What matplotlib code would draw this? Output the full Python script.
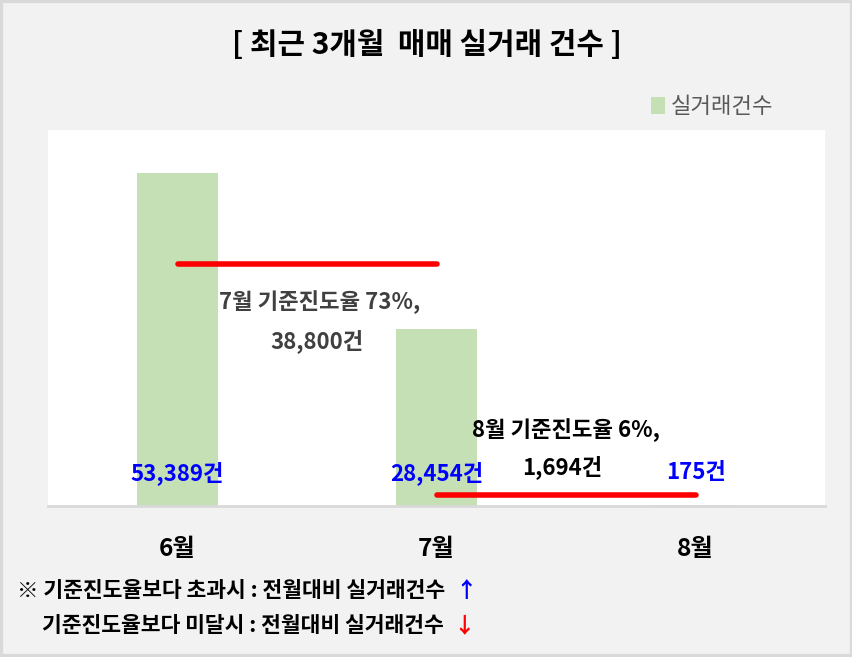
import matplotlib
matplotlib.use("Agg")
import matplotlib.pyplot as plt
from matplotlib.patches import Rectangle, Patch

plt.rcParams['font.family'] = ['Noto Sans CJK KR', 'DejaVu Sans']

# data
months = ["6월", "7월", "8월"]
deals = [53389, 28454, 175]
deal_labels = ["53,389건", "28,454건", "175건"]
# 기준진도율 목표선 (전월 -> 당월)
target_7 = 38800
target_8 = 1694
note_7 = ["7월 기준진도율 73%,", "38,800건"]
note_8 = ["8월 기준진도율 6%,", "1,694건"]

bar_color = "#c5e0b4"

fig = plt.figure(figsize=(8.53, 6.57), dpi=100)
fig.patch.set_facecolor("#f2f2f2")
# outer frame
fig.patches.append(Rectangle((0.0015, 0.002), 0.997, 0.996, transform=fig.transFigure,
                             fill=False, edgecolor="#d9d9d9", linewidth=3))

ax = fig.add_axes([0.0563, 0.2298, 0.911, 0.5723])
ax.set_facecolor("white")

x = range(len(months))
ax.bar(x, deals, width=0.31, color=bar_color, zorder=2)

ax.set_xlim(-0.5, 2.5)
ax.set_ylim(0, 60300)

# red target lines
ax.plot([0, 1], [target_7, target_7], color="red", linewidth=4, solid_capstyle="round", zorder=3)
ax.plot([1, 2], [target_8, target_8], color="red", linewidth=4, solid_capstyle="round", zorder=3)

# blue value labels near the bottom
for i, lab in enumerate(deal_labels):
    ax.text(i, 5300, lab, ha="center", va="center", color="blue",
            fontsize=16, fontweight="bold", zorder=4)

# annotations
ax.text(0.55, 32700, note_7[0], ha="center", va="center", color="#404040",
        fontsize=16, fontweight="bold", zorder=4)
ax.text(0.54, 26400, note_7[1], ha="center", va="center", color="#404040",
        fontsize=16, fontweight="bold", zorder=4)
ax.text(1.5, 12200, note_8[0], ha="center", va="center", color="black",
        fontsize=16, fontweight="bold", zorder=4)
ax.text(1.485, 6250, note_8[1], ha="center", va="center", color="black",
        fontsize=16, fontweight="bold", zorder=4)

# axes styling
for side in ["top", "left", "right"]:
    ax.spines[side].set_visible(False)
ax.spines["bottom"].set_color("#d9d9d9")
ax.spines["bottom"].set_linewidth(2)
ax.set_yticks([])
ax.set_xticks(list(x))
ax.set_xticklabels(months, fontsize=17.5, fontweight="bold", color="black")
ax.tick_params(axis="x", length=0, pad=22)

# title
fig.text(0.5, 0.931, "[ 최근 3개월  매매 실거래 건수 ]", ha="center", va="center",
         fontsize=21.5, fontweight="bold", color="black")

# legend
leg = fig.legend(handles=[Patch(facecolor=bar_color, label="실거래건수")],
                 loc="center left", bbox_to_anchor=(0.74, 0.838), frameon=False,
                 handlelength=0.6, handleheight=0.8, handletextpad=0.3,
                 prop={"size": 16})
for t in leg.get_texts():
    t.set_color("#595959")

# footnotes with coloured arrows right after the text
r = fig.canvas.get_renderer()
notes = [("※ 기준진도율보다 초과시 : 전월대비 실거래건수", 0.02, 0.101, "↑", "blue"),
         ("기준진도율보다 미달시 : 전월대비 실거래건수", 0.049, 0.048, "↓", "red")]
for txt, fx, fy, arrow, col in notes:
    t = fig.text(fx, fy, txt, ha="left", va="center", fontsize=15.5,
                 fontweight="bold", color="black")
    bb = t.get_window_extent(renderer=r)
    fig.text(bb.x1 / fig.bbox.width + 0.012, fy, arrow, ha="left", va="center",
             fontsize=15.5, fontweight="bold", color=col)

fig.savefig("out.png", dpi=100, facecolor=fig.get_facecolor())
